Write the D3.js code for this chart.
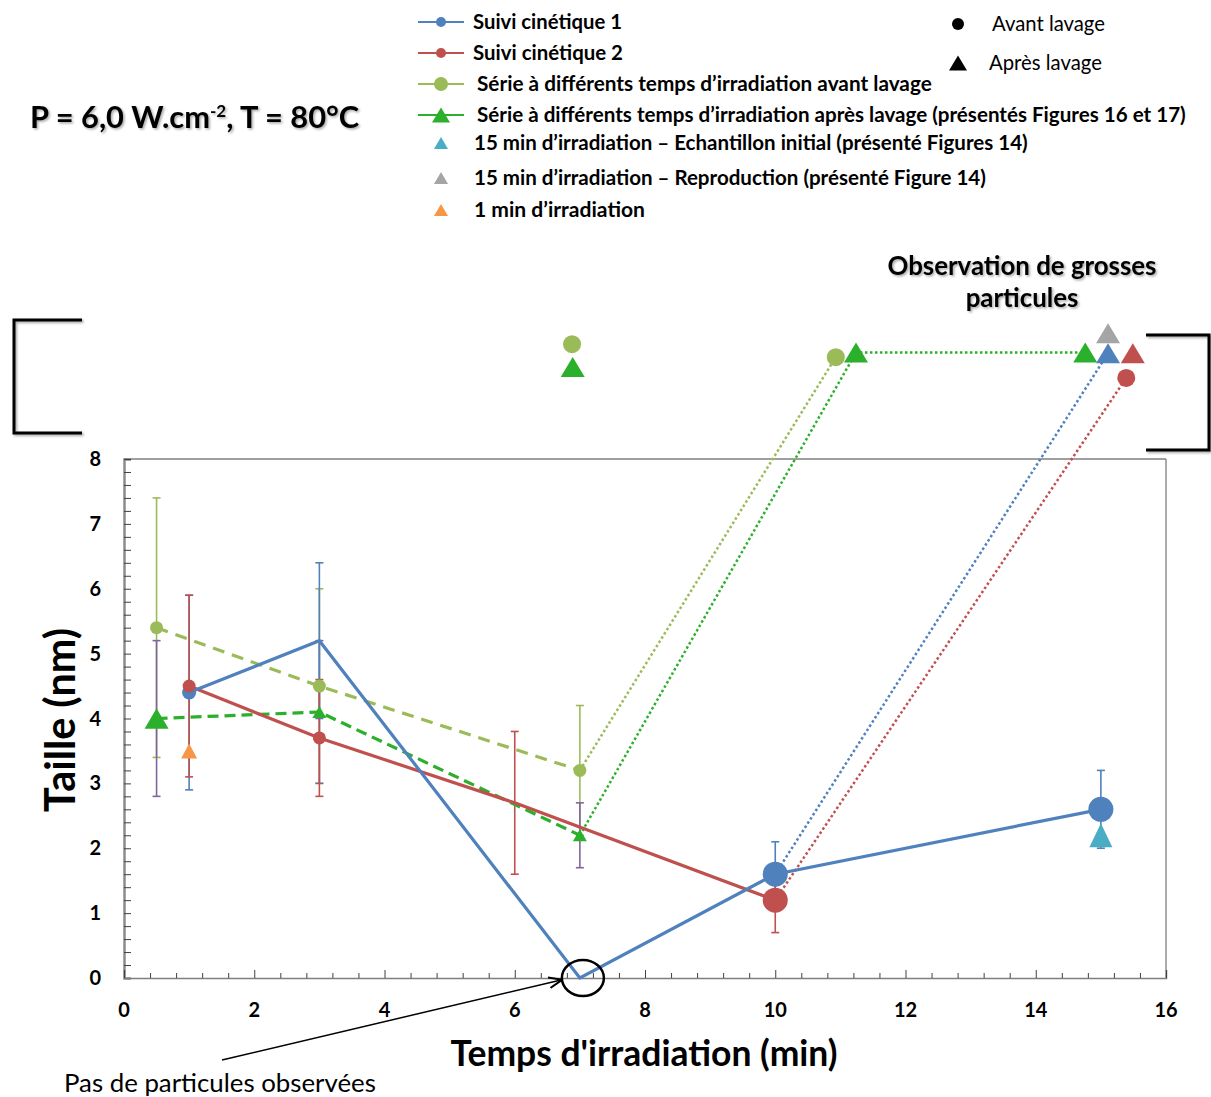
<!DOCTYPE html>
<html>
<head>
<meta charset="utf-8">
<script src="https://cdn.jsdelivr.net/npm/d3@7"></script>
<style>
  html, body { margin: 0; padding: 0; background: #fff; }
  svg { display: block; }
  text { font-family: Lato, "Open Sans", sans-serif; }
</style>
</head>
<body>
<svg id="chart" width="1211" height="1097"></svg>
<script>
// ---------------- DATA ----------------
const xTicks = [0, 2, 4, 6, 8, 10, 12, 14, 16];
const yTicks = [0, 1, 2, 3, 4, 5, 6, 7, 8];

// Suivi cinétique 1
const suivi1X = [1, 3, 7, 10, 15];
const suivi1Y = [4.4, 5.2, 0, 1.6, 2.6];
const suivi1Err = [1.5, 1.2, 0, 0.5, 0.6];

// Suivi cinétique 2
const suivi2X = [1, 3, 6, 10];
const suivi2Y = [4.5, 3.7, 2.7, 1.2];
const suivi2Err = [1.4, 0.9, 1.1, 0.5];

// Série avant lavage
const avantX = [0.5, 3, 7];
const avantY = [5.4, 4.5, 3.2];
const avantErr = [2.0, 1.5, 1.0];

// Série après lavage
const apresX = [0.5, 3, 7];
const apresY = [4.0, 4.1, 2.2];
const apresErr = [1.2, 1.1, 0.5];

// 15 min - échantillon initial ; 1 min
const initialX = [15];
const initialY = [2.2];
const oneMinX = [1];
const oneMinY = [3.5];

// "Observation de grosses particules" (off-scale markers)
const bigAvantX = [6.88, 10.93, 15.39];
const bigAvantY = [9.77, 9.57, 9.25];
const bigAvantSeries = ["avant", "avant", "suivi2"];
const bigApresX = [6.89, 11.24, 14.76, 15.11, 15.11, 15.49];
const bigApresY = [9.42, 9.64, 9.64, 9.63, 9.94, 9.63];
const bigApresSeries = ["apres", "apres", "apres", "suivi1", "repro", "suivi2"];

// dotted links towards large particles
const linkAvant = [[7, 3.2], [10.93, 9.57]];
const linkApres = [[7, 2.2], [11.24, 9.64], [14.76, 9.64]];
const linkSuivi1 = [[10, 1.6], [15.11, 9.63]];
const linkSuivi2 = [[10, 1.2], [15.39, 9.25]];

const legendLabels = [
  "Suivi cinétique 1",
  "Suivi cinétique 2",
  "Série à différents temps d’irradiation avant lavage",
  "Série à différents temps d’irradiation après lavage (présentés Figures 16 et 17)",
  "15 min d’irradiation – Echantillon initial (présenté Figures 14)",
  "15 min d’irradiation – Reproduction (présenté Figure 14)",
  "1 min d’irradiation"
];

// ---------------- STYLE ----------------
const C = {
  suivi1: "#4F81BD", suivi2: "#C0504D", avant: "#9BBB59", apres: "#2BB02B",
  purple: "#8064A2", initial: "#4BACC6", repro: "#A5A5A5", onemin: "#F79646"
};
const suivi1R = [7, 0, 0, 12.5, 12.5];
const suivi2R = [6.5, 6.5, 0, 12.5];
const avantR = [6.5, 6.5, 6.5];
const apresW = [24, 14, 14];

const svg = d3.select("#chart");

const x = d3.scaleLinear().domain([0, 16]).range([124, 1166]);
const y = d3.scaleLinear().domain([0, 8]).range([978, 459]);

function fit(sel, target) {
  const n = sel.node();
  const fs = parseFloat(sel.attr("font-size"));
  const w = n.getComputedTextLength();
  if (w > 0) sel.attr("font-size", (fs * target / w).toFixed(2));
  return sel;
}
function triPath(w, h) {
  const hw = w / 2, hh = h / 2;
  return `M0,${-hh}L${hw},${hh}L${-hw},${hh}Z`;
}

const defs = svg.append("defs");
const sh = defs.append("filter").attr("id", "shadow").attr("x", "-20%").attr("y", "-20%").attr("width", "140%").attr("height", "140%");
sh.append("feDropShadow").attr("dx", 1.5).attr("dy", 1.5).attr("stdDeviation", 1.2).attr("flood-color", "#000").attr("flood-opacity", 0.35);
const arrow = defs.append("marker").attr("id", "arrow").attr("viewBox", "0 0 10 10").attr("refX", 9).attr("refY", 5)
  .attr("markerWidth", 9).attr("markerHeight", 9).attr("orient", "auto");
arrow.append("path").attr("d", "M0,1L10,5L0,9").attr("fill", "none").attr("stroke", "#000").attr("stroke-width", 1.5);

// ---------------- AXES / FRAME ----------------
const g = svg.append("g");
g.append("line").attr("x1", x(0)).attr("x2", x(16)).attr("y1", y(8)).attr("y2", y(8)).attr("stroke", "#7f7f7f").attr("stroke-width", 1.3);
g.append("line").attr("x1", x(16)).attr("x2", x(16)).attr("y1", y(8)).attr("y2", y(0)).attr("stroke", "#7f7f7f").attr("stroke-width", 1.3);

const yAxis = d3.axisRight(y).tickValues(d3.range(0, 8.001, 0.2)).tickSize(7).tickFormat("");
const ya = g.append("g").attr("transform", `translate(${x(0)},0)`).call(yAxis);
ya.select(".domain").attr("stroke", "#8c8c8c").attr("stroke-width", 2.5);
ya.selectAll(".tick line").attr("stroke", "#404040").attr("stroke-width", 1);
g.selectAll(".ylab").data(yTicks).join("text").attr("class", "ylab")
  .attr("x", 101).attr("y", d => y(d) + 7).attr("text-anchor", "end")
  .attr("font-size", 20).attr("font-weight", 700).attr("fill", "#000").text(d => d);

const xMinor = d3.range(0, 16.001, 0.4).filter(v => Math.abs(v / 2 - Math.round(v / 2)) > 1e-6);
const xa = g.append("g").attr("transform", `translate(0,${y(0)})`)
  .call(d3.axisTop(x).tickValues(xTicks).tickSize(8).tickFormat(""));
xa.select(".domain").attr("stroke", "#7f7f7f").attr("stroke-width", 1.5);
xa.selectAll(".tick line").attr("stroke", "#404040");
const xm = g.append("g").attr("transform", `translate(0,${y(0)})`)
  .call(d3.axisTop(x).tickValues(xMinor).tickSize(5).tickFormat(""));
xm.select(".domain").remove();
xm.selectAll(".tick line").attr("stroke", "#404040");
g.selectAll(".xlab").data(xTicks).join("text").attr("class", "xlab")
  .attr("x", d => x(d)).attr("y", 1017).attr("text-anchor", "middle")
  .attr("font-size", 20).attr("font-weight", 700).attr("fill", "#000").text(d => d);

const yt = svg.append("text").attr("transform", `translate(75,720) rotate(-90)`).attr("text-anchor", "middle")
  .attr("font-size", 34).attr("font-weight", 700).text("Taille (nm)");
fit(yt, 184);
const xt = svg.append("text").attr("x", 644).attr("y", 1066).attr("text-anchor", "middle")
  .attr("font-size", 32).attr("font-weight", 700).text("Temps d'irradiation (min)");
fit(xt, 387);

// ---------------- MARKS ----------------
const plot = svg.append("g");
const line = d3.line().x(d => x(d[0])).y(d => y(d[1]));

function errBars(xs, ys, es, color) {
  xs.forEach((xv, i) => {
    if (!es[i]) return;
    const gg = plot.append("g").attr("stroke", color).attr("stroke-width", 1.6);
    gg.append("line").attr("x1", x(xv)).attr("x2", x(xv)).attr("y1", y(ys[i] - es[i])).attr("y2", y(ys[i] + es[i]));
    [ys[i] - es[i], ys[i] + es[i]].forEach(v =>
      gg.append("line").attr("x1", x(xv) - 4).attr("x2", x(xv) + 4).attr("y1", y(v)).attr("y2", y(v)));
  });
}
errBars(avantX, avantY, avantErr, C.avant);
errBars(apresX, apresY, apresErr, C.purple);
errBars(suivi1X, suivi1Y, suivi1Err, C.suivi1);
errBars(suivi2X, suivi2Y, suivi2Err, C.suivi2);

[[linkAvant, C.avant], [linkApres, C.apres], [linkSuivi1, C.suivi1], [linkSuivi2, C.suivi2]].forEach(([pts, col]) => {
  plot.append("path").attr("d", line(pts)).attr("fill", "none").attr("stroke", col)
    .attr("stroke-width", 2.5).attr("stroke-dasharray", "2.5,2.5");
});

const zip = (a, b) => a.map((v, i) => [v, b[i]]);
plot.append("path").attr("d", line(zip(avantX, avantY))).attr("fill", "none").attr("stroke", C.avant)
  .attr("stroke-width", 3.2).attr("stroke-dasharray", "12,8");
plot.append("path").attr("d", line(zip(apresX, apresY))).attr("fill", "none").attr("stroke", C.apres)
  .attr("stroke-width", 3.2).attr("stroke-dasharray", "11,6");
plot.append("path").attr("d", line(zip(suivi2X, suivi2Y))).attr("fill", "none").attr("stroke", C.suivi2).attr("stroke-width", 3.2);
plot.append("path").attr("d", line(zip(suivi1X, suivi1Y))).attr("fill", "none").attr("stroke", C.suivi1).attr("stroke-width", 3.2);

function circles(xs, ys, rs, color) {
  xs.forEach((xv, i) => {
    const r = Array.isArray(rs) ? rs[i] : rs;
    if (r > 0) plot.append("circle").attr("cx", x(xv)).attr("cy", y(ys[i])).attr("r", r).attr("fill", color);
  });
}
function tris(xs, ys, ws, hs, color) {
  xs.forEach((xv, i) => {
    const w = Array.isArray(ws) ? ws[i] : ws;
    const h = Array.isArray(hs) ? hs[i] : hs;
    plot.append("path").attr("d", triPath(w, h)).attr("transform", `translate(${x(xv)},${y(ys[i])})`).attr("fill", color);
  });
}
circles(avantX, avantY, avantR, C.avant);
tris(apresX, apresY, apresW, apresW.map(w => w * 0.85), C.apres);
tris(oneMinX, oneMinY, 16, 15, C.onemin);
circles(suivi1X, suivi1Y, suivi1R, C.suivi1);
circles(suivi2X, suivi2Y, suivi2R, C.suivi2);
tris(initialX, initialY, 23, 24, C.initial);

bigAvantX.forEach((xv, i) => circles([xv], [bigAvantY[i]], 9, C[bigAvantSeries[i]]));
bigApresX.forEach((xv, i) => tris([xv], [bigApresY[i]], 24, 20, C[bigApresSeries[i]]));

// ---------------- ANNOTATIONS ----------------
const ann = svg.append("g");
ann.append("path").attr("d", "M82,320H14V433H82").attr("fill", "none").attr("stroke", "#000").attr("stroke-width", 3).attr("filter", "url(#shadow)");
ann.append("path").attr("d", "M1146,335H1209V450H1146").attr("fill", "none").attr("stroke", "#000").attr("stroke-width", 3).attr("filter", "url(#shadow)");

const title = ann.append("text").attr("x", 30).attr("y", 128).attr("font-size", 28).attr("font-weight", 700).attr("filter", "url(#shadow)");
title.append("tspan").text("P = 6,0 W.cm");
title.append("tspan").attr("dy", -11).attr("font-size", 17).text("-2");
title.append("tspan").attr("dy", 11).text(", T = 80°C");
fit(title, 331);

const obs1 = ann.append("text").attr("x", 1022).attr("y", 275).attr("text-anchor", "middle").attr("font-size", 24).attr("font-weight", 700).attr("filter", "url(#shadow)").text("Observation de grosses");
fit(obs1, 269);
ann.append("text").attr("x", 1022).attr("y", 307).attr("text-anchor", "middle").attr("font-size", obs1.attr("font-size")).attr("font-weight", 700).attr("filter", "url(#shadow)").text("particules");

ann.append("ellipse").attr("cx", x(7) + 3).attr("cy", y(0)).attr("rx", 21).attr("ry", 18).attr("fill", "none").attr("stroke", "#000").attr("stroke-width", 2.5);
ann.append("line").attr("x1", 222).attr("y1", 1060).attr("x2", 561).attr("y2", 980).attr("stroke", "#000").attr("stroke-width", 1.5).attr("marker-end", "url(#arrow)");
const pas = ann.append("text").attr("x", 64).attr("y", 1092).attr("font-size", 22).attr("fill", "#000").text("Pas de particules observées");
fit(pas, 312);

// ---------------- LEGEND ----------------
const leg = svg.append("g");
const rowsY = [22, 53, 84, 115, 143, 178, 210];
const textX = [473, 473, 477, 477, 474, 474, 474];
const targetW = [149, 150, 455, 709, 554, 512, 171];
const legCols = [C.suivi1, C.suivi2, C.avant, C.apres, C.initial, C.repro, C.onemin];
legendLabels.forEach((lab, i) => {
  const yy = rowsY[i];
  if (i < 4) {
    leg.append("line").attr("x1", 418).attr("x2", 464).attr("y1", yy).attr("y2", yy).attr("stroke", legCols[i]).attr("stroke-width", 2);
  }
  if (i < 2) leg.append("circle").attr("cx", 441).attr("cy", yy).attr("r", 5).attr("fill", legCols[i]);
  else if (i === 2) leg.append("circle").attr("cx", 441).attr("cy", yy).attr("r", 7).attr("fill", legCols[i]);
  else if (i === 3) leg.append("path").attr("d", triPath(18, 15)).attr("transform", `translate(441,${yy})`).attr("fill", legCols[i]);
  else leg.append("path").attr("d", triPath(14, 12)).attr("transform", `translate(441,${yy})`).attr("fill", legCols[i]);
  const t = leg.append("text").attr("x", textX[i]).attr("y", yy + 7).attr("font-size", 19).attr("font-weight", 700).attr("fill", "#000").text(lab);
  fit(t, targetW[i]);
});
leg.append("circle").attr("cx", 958).attr("cy", 24).attr("r", 6).attr("fill", "#000");
leg.append("path").attr("d", triPath(18, 15)).attr("transform", "translate(958,63)").attr("fill", "#000");
const av = leg.append("text").attr("x", 992).attr("y", 31).attr("font-size", 19).text("Avant lavage");
fit(av, 113);
const ap = leg.append("text").attr("x", 989).attr("y", 70).attr("font-size", 19).text("Après lavage");
fit(ap, 113);
</script>
</body>
</html>
